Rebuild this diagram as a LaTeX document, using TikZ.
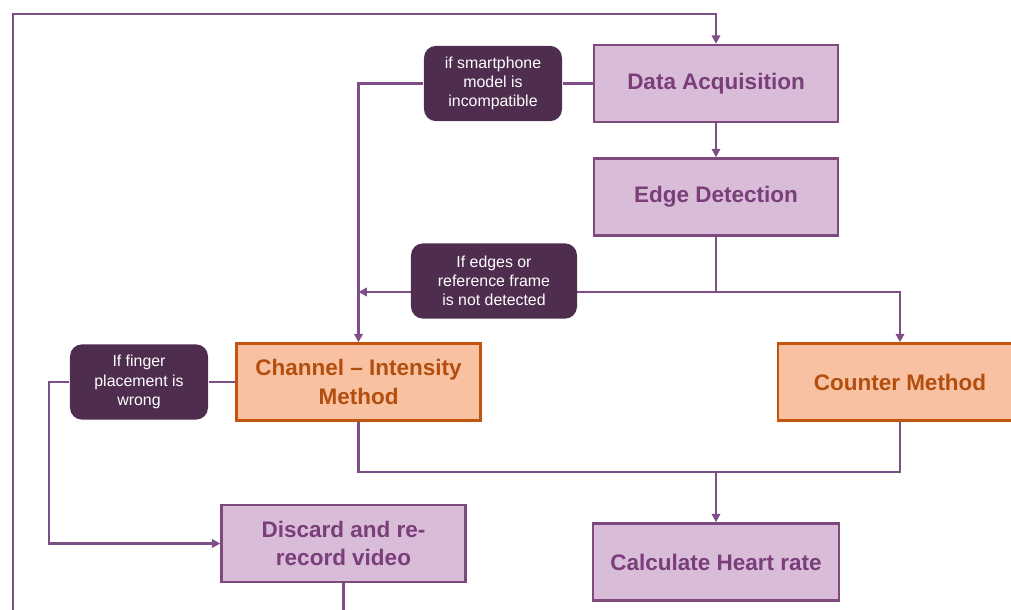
\documentclass[tikz,border=0pt]{standalone}
\usepackage{fontspec}
\setmainfont{Liberation Sans}
\usetikzlibrary{positioning,arrows.meta,calc}
\usepackage{xcolor}
\definecolor{lineviolet}{HTML}{7D4F86}
\definecolor{boxedge}{HTML}{7E4A7E}
\definecolor{boxfill}{HTML}{D9BCD8}
\definecolor{boxtext}{HTML}{7A3E7A}
\definecolor{condfill}{HTML}{4E2D4E}
\definecolor{methodfill}{HTML}{F8C2A2}
\definecolor{methodedge}{HTML}{C25611}
\definecolor{methodtext}{HTML}{B34E0E}

\begin{document}
\begin{tikzpicture}[x=0.025cm, y=-0.025cm, line width=1.6pt,
  stepbox/.style={rectangle, draw=boxedge, fill=boxfill, text=boxtext, minimum width=6.1cm, minimum height=1.93cm, align=center, font=\fontsize{16}{20}\selectfont\bfseries},
  methodbox/.style={stepbox, draw=methodedge, fill=methodfill, text=methodtext},
  condbox/.style={rectangle, rounded corners=0.3cm, fill=condfill, text=white, minimum width=3.45cm, minimum height=1.88cm, align=center, font=\fontsize{11.3}{13.6}\selectfont},
  link/.style={draw=lineviolet},
  flow/.style={draw=lineviolet, -{Triangle[length=6pt, width=6pt]}}]
\useasboundingbox (0,0) rectangle (1011,610);
\clip (0,0) rectangle (1011,610);
\node[stepbox] (acq) at (716,83.5) {Data Acquisition};
\node[stepbox] (edge) at (716,197) {Edge Detection};
\node[methodbox] (chan) at (358.5,382) {Channel -- Intensity\\Method};
\node[methodbox] (count) at (900,382) {Counter Method};
\node[stepbox] (disc) at (343.5,543.5) {Discard and re-\\record video};
\node[stepbox, minimum width=6.15cm] (rate) at (716,562) {Calculate Heart rate};
\coordinate (split) at (716,292);
\coordinate (tee) at (358.5,292);
\coordinate (join) at (716,472);
\coordinate (corner) at (13,14);
% failure branches
\draw[flow] (edge.south) |- (tee);
\draw[flow] (split) -| (count.north);
\node[condbox] (phone) at (493,83.5) {if smartphone\\model is\\incompatible};
\node[condbox, minimum width=4.15cm] (noedge) at (494,281) {If edges or\\reference frame\\is not detected};
\node[condbox] (finger) at (139,382) {If finger\\placement is\\wrong};
\draw[flow] (acq) -- (edge);
\draw[link] (acq) -- (phone);
\draw[flow] (phone.west) -| (chan.north);
\draw[link] (chan.west) -- (finger.east);
\draw[flow] (finger.west) -- ++(-20,0) |- (disc.west);
% both methods lead to heart rate
\draw[link] (chan.south) |- (join) -| (count.south);
\draw[flow] (join) -- (rate.north);
% re-record and start again
\draw[flow] (disc.south) -- ++(0,60) -| (corner) -| (acq.north);
\end{tikzpicture}
\end{document}
